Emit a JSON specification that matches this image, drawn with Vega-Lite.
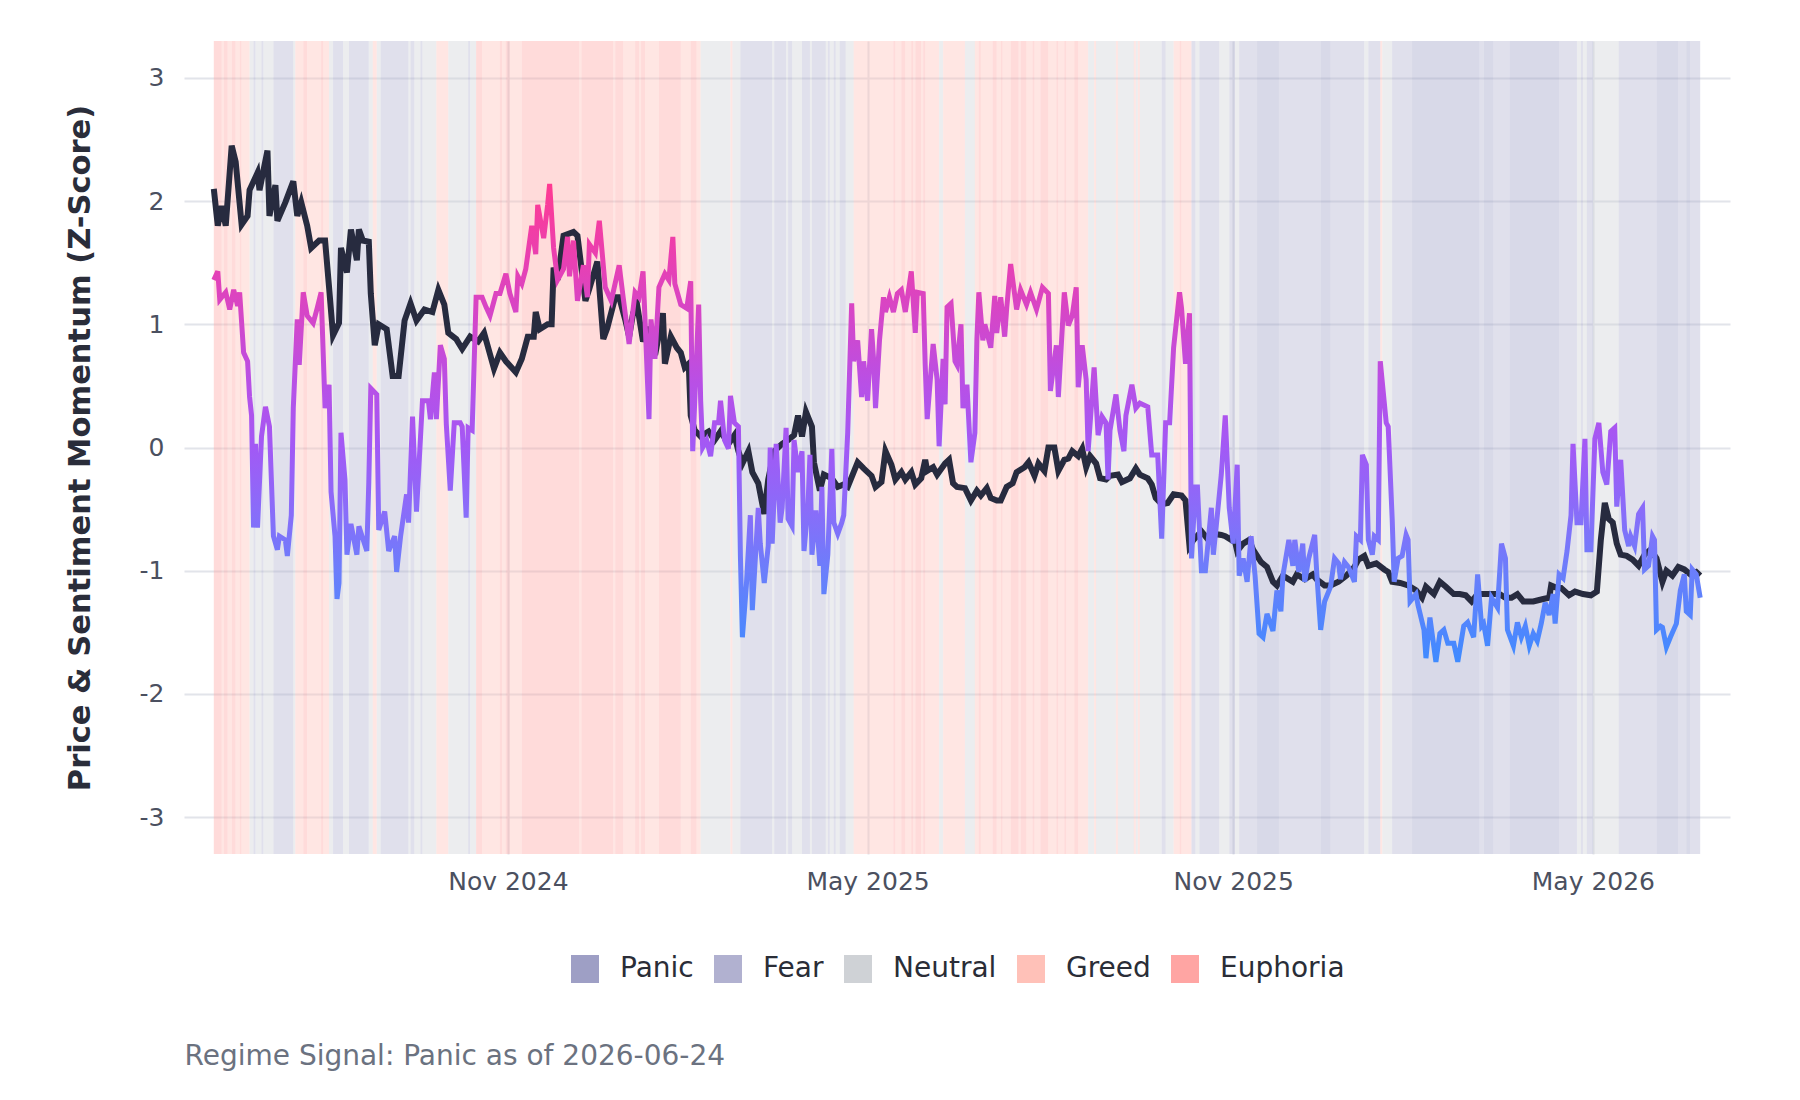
{
  "$schema": "https://vega.github.io/schema/vega-lite/v6.json",
  "width": 1546,
  "height": 813,
  "autosize": {"type": "none"},
  "padding": {"left": 184, "top": 41, "right": 70, "bottom": 246},
  "background": "white",
  "config": {
    "font": "DejaVu Sans",
    "view": {"stroke": null},
    "legend": {"padding": 0}
  },
  "datasets": {
    "regimes": [
      {"start": "2024-06-06", "end": "2024-06-10", "regime": "Euphoria"},
      {"start": "2024-06-10", "end": "2024-06-11", "regime": "Greed"},
      {"start": "2024-06-11", "end": "2024-06-13", "regime": "Euphoria"},
      {"start": "2024-06-13", "end": "2024-06-15", "regime": "Greed"},
      {"start": "2024-06-15", "end": "2024-06-17", "regime": "Euphoria"},
      {"start": "2024-06-17", "end": "2024-06-19", "regime": "Greed"},
      {"start": "2024-06-19", "end": "2024-06-20", "regime": "Euphoria"},
      {"start": "2024-06-20", "end": "2024-06-24", "regime": "Greed"},
      {"start": "2024-06-24", "end": "2024-06-26", "regime": "Neutral"},
      {"start": "2024-06-26", "end": "2024-06-27", "regime": "Fear"},
      {"start": "2024-06-27", "end": "2024-06-30", "regime": "Neutral"},
      {"start": "2024-06-30", "end": "2024-07-01", "regime": "Fear"},
      {"start": "2024-07-01", "end": "2024-07-06", "regime": "Neutral"},
      {"start": "2024-07-06", "end": "2024-07-16", "regime": "Fear"},
      {"start": "2024-07-16", "end": "2024-07-17", "regime": "Neutral"},
      {"start": "2024-07-17", "end": "2024-07-21", "regime": "Greed"},
      {"start": "2024-07-21", "end": "2024-07-23", "regime": "Euphoria"},
      {"start": "2024-07-23", "end": "2024-07-30", "regime": "Greed"},
      {"start": "2024-07-30", "end": "2024-07-31", "regime": "Euphoria"},
      {"start": "2024-07-31", "end": "2024-08-03", "regime": "Greed"},
      {"start": "2024-08-03", "end": "2024-08-05", "regime": "Neutral"},
      {"start": "2024-08-05", "end": "2024-08-10", "regime": "Fear"},
      {"start": "2024-08-10", "end": "2024-08-13", "regime": "Neutral"},
      {"start": "2024-08-13", "end": "2024-08-23", "regime": "Fear"},
      {"start": "2024-08-23", "end": "2024-08-25", "regime": "Neutral"},
      {"start": "2024-08-25", "end": "2024-08-27", "regime": "Greed"},
      {"start": "2024-08-27", "end": "2024-08-29", "regime": "Neutral"},
      {"start": "2024-08-29", "end": "2024-09-12", "regime": "Fear"},
      {"start": "2024-09-12", "end": "2024-09-13", "regime": "Neutral"},
      {"start": "2024-09-13", "end": "2024-09-15", "regime": "Fear"},
      {"start": "2024-09-15", "end": "2024-09-18", "regime": "Neutral"},
      {"start": "2024-09-18", "end": "2024-09-19", "regime": "Fear"},
      {"start": "2024-09-19", "end": "2024-09-26", "regime": "Neutral"},
      {"start": "2024-09-26", "end": "2024-10-02", "regime": "Greed"},
      {"start": "2024-10-02", "end": "2024-10-12", "regime": "Neutral"},
      {"start": "2024-10-12", "end": "2024-10-13", "regime": "Fear"},
      {"start": "2024-10-13", "end": "2024-10-16", "regime": "Neutral"},
      {"start": "2024-10-16", "end": "2024-10-19", "regime": "Euphoria"},
      {"start": "2024-10-19", "end": "2024-10-28", "regime": "Greed"},
      {"start": "2024-10-28", "end": "2024-10-29", "regime": "Euphoria"},
      {"start": "2024-10-29", "end": "2024-10-31", "regime": "Greed"},
      {"start": "2024-10-31", "end": "2024-11-02", "regime": "Euphoria"},
      {"start": "2024-11-02", "end": "2024-11-08", "regime": "Greed"},
      {"start": "2024-11-08", "end": "2024-12-07", "regime": "Euphoria"},
      {"start": "2024-12-07", "end": "2024-12-08", "regime": "Greed"},
      {"start": "2024-12-08", "end": "2024-12-24", "regime": "Euphoria"},
      {"start": "2024-12-24", "end": "2024-12-25", "regime": "Greed"},
      {"start": "2024-12-25", "end": "2024-12-29", "regime": "Euphoria"},
      {"start": "2024-12-29", "end": "2025-01-04", "regime": "Greed"},
      {"start": "2025-01-04", "end": "2025-01-06", "regime": "Euphoria"},
      {"start": "2025-01-06", "end": "2025-01-07", "regime": "Greed"},
      {"start": "2025-01-07", "end": "2025-01-09", "regime": "Euphoria"},
      {"start": "2025-01-09", "end": "2025-01-16", "regime": "Greed"},
      {"start": "2025-01-16", "end": "2025-01-27", "regime": "Euphoria"},
      {"start": "2025-01-27", "end": "2025-02-01", "regime": "Greed"},
      {"start": "2025-02-01", "end": "2025-02-04", "regime": "Euphoria"},
      {"start": "2025-02-04", "end": "2025-02-06", "regime": "Greed"},
      {"start": "2025-02-06", "end": "2025-02-21", "regime": "Neutral"},
      {"start": "2025-02-21", "end": "2025-02-22", "regime": "Greed"},
      {"start": "2025-02-22", "end": "2025-02-26", "regime": "Neutral"},
      {"start": "2025-02-26", "end": "2025-03-14", "regime": "Fear"},
      {"start": "2025-03-14", "end": "2025-03-15", "regime": "Neutral"},
      {"start": "2025-03-15", "end": "2025-03-21", "regime": "Fear"},
      {"start": "2025-03-21", "end": "2025-03-22", "regime": "Neutral"},
      {"start": "2025-03-22", "end": "2025-03-24", "regime": "Fear"},
      {"start": "2025-03-24", "end": "2025-03-29", "regime": "Neutral"},
      {"start": "2025-03-29", "end": "2025-04-02", "regime": "Fear"},
      {"start": "2025-04-02", "end": "2025-04-03", "regime": "Neutral"},
      {"start": "2025-04-03", "end": "2025-04-10", "regime": "Fear"},
      {"start": "2025-04-10", "end": "2025-04-11", "regime": "Neutral"},
      {"start": "2025-04-11", "end": "2025-04-12", "regime": "Fear"},
      {"start": "2025-04-12", "end": "2025-04-14", "regime": "Neutral"},
      {"start": "2025-04-14", "end": "2025-04-15", "regime": "Fear"},
      {"start": "2025-04-15", "end": "2025-04-17", "regime": "Neutral"},
      {"start": "2025-04-17", "end": "2025-04-20", "regime": "Fear"},
      {"start": "2025-04-20", "end": "2025-04-24", "regime": "Neutral"},
      {"start": "2025-04-24", "end": "2025-05-14", "regime": "Greed"},
      {"start": "2025-05-14", "end": "2025-05-15", "regime": "Euphoria"},
      {"start": "2025-05-15", "end": "2025-05-18", "regime": "Greed"},
      {"start": "2025-05-18", "end": "2025-05-20", "regime": "Euphoria"},
      {"start": "2025-05-20", "end": "2025-05-23", "regime": "Greed"},
      {"start": "2025-05-23", "end": "2025-05-24", "regime": "Euphoria"},
      {"start": "2025-05-24", "end": "2025-05-25", "regime": "Greed"},
      {"start": "2025-05-25", "end": "2025-05-28", "regime": "Euphoria"},
      {"start": "2025-05-28", "end": "2025-05-29", "regime": "Greed"},
      {"start": "2025-05-29", "end": "2025-05-30", "regime": "Euphoria"},
      {"start": "2025-05-30", "end": "2025-06-06", "regime": "Greed"},
      {"start": "2025-06-06", "end": "2025-06-08", "regime": "Neutral"},
      {"start": "2025-06-08", "end": "2025-06-19", "regime": "Greed"},
      {"start": "2025-06-19", "end": "2025-06-24", "regime": "Neutral"},
      {"start": "2025-06-24", "end": "2025-06-26", "regime": "Greed"},
      {"start": "2025-06-26", "end": "2025-06-27", "regime": "Euphoria"},
      {"start": "2025-06-27", "end": "2025-07-03", "regime": "Greed"},
      {"start": "2025-07-03", "end": "2025-07-05", "regime": "Euphoria"},
      {"start": "2025-07-05", "end": "2025-07-07", "regime": "Greed"},
      {"start": "2025-07-07", "end": "2025-07-08", "regime": "Euphoria"},
      {"start": "2025-07-08", "end": "2025-07-12", "regime": "Greed"},
      {"start": "2025-07-12", "end": "2025-07-16", "regime": "Euphoria"},
      {"start": "2025-07-16", "end": "2025-07-17", "regime": "Greed"},
      {"start": "2025-07-17", "end": "2025-07-20", "regime": "Euphoria"},
      {"start": "2025-07-20", "end": "2025-07-23", "regime": "Greed"},
      {"start": "2025-07-23", "end": "2025-07-24", "regime": "Euphoria"},
      {"start": "2025-07-24", "end": "2025-07-27", "regime": "Greed"},
      {"start": "2025-07-27", "end": "2025-07-31", "regime": "Euphoria"},
      {"start": "2025-07-31", "end": "2025-08-04", "regime": "Greed"},
      {"start": "2025-08-04", "end": "2025-08-05", "regime": "Euphoria"},
      {"start": "2025-08-05", "end": "2025-08-08", "regime": "Greed"},
      {"start": "2025-08-08", "end": "2025-08-09", "regime": "Euphoria"},
      {"start": "2025-08-09", "end": "2025-08-13", "regime": "Greed"},
      {"start": "2025-08-13", "end": "2025-08-15", "regime": "Euphoria"},
      {"start": "2025-08-15", "end": "2025-08-20", "regime": "Greed"},
      {"start": "2025-08-20", "end": "2025-08-23", "regime": "Neutral"},
      {"start": "2025-08-23", "end": "2025-08-24", "regime": "Greed"},
      {"start": "2025-08-24", "end": "2025-09-03", "regime": "Neutral"},
      {"start": "2025-09-03", "end": "2025-09-04", "regime": "Greed"},
      {"start": "2025-09-04", "end": "2025-09-12", "regime": "Neutral"},
      {"start": "2025-09-12", "end": "2025-09-13", "regime": "Greed"},
      {"start": "2025-09-13", "end": "2025-09-14", "regime": "Neutral"},
      {"start": "2025-09-14", "end": "2025-09-15", "regime": "Greed"},
      {"start": "2025-09-15", "end": "2025-09-26", "regime": "Neutral"},
      {"start": "2025-09-26", "end": "2025-09-28", "regime": "Fear"},
      {"start": "2025-09-28", "end": "2025-10-02", "regime": "Neutral"},
      {"start": "2025-10-02", "end": "2025-10-05", "regime": "Greed"},
      {"start": "2025-10-05", "end": "2025-10-06", "regime": "Euphoria"},
      {"start": "2025-10-06", "end": "2025-10-11", "regime": "Greed"},
      {"start": "2025-10-11", "end": "2025-10-13", "regime": "Fear"},
      {"start": "2025-10-13", "end": "2025-10-15", "regime": "Neutral"},
      {"start": "2025-10-15", "end": "2025-10-25", "regime": "Fear"},
      {"start": "2025-10-25", "end": "2025-10-30", "regime": "Neutral"},
      {"start": "2025-10-30", "end": "2025-11-02", "regime": "Fear"},
      {"start": "2025-11-02", "end": "2025-11-04", "regime": "Neutral"},
      {"start": "2025-11-04", "end": "2025-11-13", "regime": "Fear"},
      {"start": "2025-11-13", "end": "2025-11-24", "regime": "Panic"},
      {"start": "2025-11-24", "end": "2025-12-15", "regime": "Fear"},
      {"start": "2025-12-15", "end": "2025-12-20", "regime": "Panic"},
      {"start": "2025-12-20", "end": "2026-01-06", "regime": "Fear"},
      {"start": "2026-01-06", "end": "2026-01-08", "regime": "Neutral"},
      {"start": "2026-01-08", "end": "2026-01-14", "regime": "Fear"},
      {"start": "2026-01-14", "end": "2026-01-15", "regime": "Greed"},
      {"start": "2026-01-15", "end": "2026-01-20", "regime": "Neutral"},
      {"start": "2026-01-20", "end": "2026-01-30", "regime": "Fear"},
      {"start": "2026-01-30", "end": "2026-03-05", "regime": "Panic"},
      {"start": "2026-03-05", "end": "2026-03-07", "regime": "Fear"},
      {"start": "2026-03-07", "end": "2026-03-12", "regime": "Panic"},
      {"start": "2026-03-12", "end": "2026-03-20", "regime": "Fear"},
      {"start": "2026-03-20", "end": "2026-04-14", "regime": "Panic"},
      {"start": "2026-04-14", "end": "2026-04-23", "regime": "Fear"},
      {"start": "2026-04-23", "end": "2026-04-25", "regime": "Neutral"},
      {"start": "2026-04-25", "end": "2026-04-26", "regime": "Fear"},
      {"start": "2026-04-26", "end": "2026-04-28", "regime": "Neutral"},
      {"start": "2026-04-28", "end": "2026-05-01", "regime": "Fear"},
      {"start": "2026-05-01", "end": "2026-05-14", "regime": "Neutral"},
      {"start": "2026-05-14", "end": "2026-06-02", "regime": "Fear"},
      {"start": "2026-06-02", "end": "2026-06-13", "regime": "Panic"},
      {"start": "2026-06-13", "end": "2026-06-17", "regime": "Fear"},
      {"start": "2026-06-17", "end": "2026-06-19", "regime": "Panic"},
      {"start": "2026-06-19", "end": "2026-06-24", "regime": "Fear"}
    ],
    "price": [
      {"date": "2024-06-06", "z": 2.10}, {"date": "2024-06-08", "z": 1.80}, {"date": "2024-06-10", "z": 1.96},
      {"date": "2024-06-12", "z": 1.80}, {"date": "2024-06-15", "z": 2.45}, {"date": "2024-06-17", "z": 2.32},
      {"date": "2024-06-20", "z": 1.81}, {"date": "2024-06-23", "z": 1.88}, {"date": "2024-06-24", "z": 2.09},
      {"date": "2024-06-28", "z": 2.23}, {"date": "2024-06-29", "z": 2.09}, {"date": "2024-07-03", "z": 2.41},
      {"date": "2024-07-04", "z": 1.88}, {"date": "2024-07-07", "z": 2.13}, {"date": "2024-07-08", "z": 1.84},
      {"date": "2024-07-12", "z": 1.99}, {"date": "2024-07-16", "z": 2.16}, {"date": "2024-07-18", "z": 1.88},
      {"date": "2024-07-20", "z": 1.99}, {"date": "2024-07-23", "z": 1.80}, {"date": "2024-07-25", "z": 1.62},
      {"date": "2024-07-29", "z": 1.68}, {"date": "2024-08-01", "z": 1.68}, {"date": "2024-08-03", "z": 1.30},
      {"date": "2024-08-05", "z": 0.91}, {"date": "2024-08-08", "z": 1.01}, {"date": "2024-08-09", "z": 1.62},
      {"date": "2024-08-12", "z": 1.42}, {"date": "2024-08-14", "z": 1.77}, {"date": "2024-08-17", "z": 1.52},
      {"date": "2024-08-18", "z": 1.77}, {"date": "2024-08-20", "z": 1.68}, {"date": "2024-08-23", "z": 1.67},
      {"date": "2024-08-24", "z": 1.25}, {"date": "2024-08-26", "z": 0.83}, {"date": "2024-08-28", "z": 1.00},
      {"date": "2024-09-01", "z": 0.96}, {"date": "2024-09-04", "z": 0.58}, {"date": "2024-09-07", "z": 0.58},
      {"date": "2024-09-10", "z": 1.03}, {"date": "2024-09-13", "z": 1.17}, {"date": "2024-09-16", "z": 1.03},
      {"date": "2024-09-20", "z": 1.12}, {"date": "2024-09-24", "z": 1.10}, {"date": "2024-09-27", "z": 1.28},
      {"date": "2024-09-30", "z": 1.16}, {"date": "2024-10-02", "z": 0.93}, {"date": "2024-10-06", "z": 0.88},
      {"date": "2024-10-09", "z": 0.80}, {"date": "2024-10-13", "z": 0.90}, {"date": "2024-10-17", "z": 0.86},
      {"date": "2024-10-20", "z": 0.93}, {"date": "2024-10-25", "z": 0.64}, {"date": "2024-10-28", "z": 0.77},
      {"date": "2024-10-31", "z": 0.70}, {"date": "2024-11-05", "z": 0.61}, {"date": "2024-11-08", "z": 0.72},
      {"date": "2024-11-11", "z": 0.90}, {"date": "2024-11-14", "z": 0.90}, {"date": "2024-11-15", "z": 1.10},
      {"date": "2024-11-17", "z": 0.96}, {"date": "2024-11-21", "z": 1.00}, {"date": "2024-11-23", "z": 1.00},
      {"date": "2024-11-24", "z": 1.46}, {"date": "2024-11-26", "z": 1.36}, {"date": "2024-11-29", "z": 1.72},
      {"date": "2024-12-04", "z": 1.75}, {"date": "2024-12-06", "z": 1.72}, {"date": "2024-12-10", "z": 1.19},
      {"date": "2024-12-12", "z": 1.29}, {"date": "2024-12-16", "z": 1.51}, {"date": "2024-12-19", "z": 0.88},
      {"date": "2024-12-21", "z": 0.97}, {"date": "2024-12-25", "z": 1.22}, {"date": "2024-12-27", "z": 1.22},
      {"date": "2024-12-30", "z": 1.04}, {"date": "2025-01-01", "z": 0.90}, {"date": "2025-01-03", "z": 1.09},
      {"date": "2025-01-05", "z": 1.16}, {"date": "2025-01-08", "z": 0.86}, {"date": "2025-01-10", "z": 0.96},
      {"date": "2025-01-12", "z": 0.96}, {"date": "2025-01-15", "z": 0.83}, {"date": "2025-01-18", "z": 1.09},
      {"date": "2025-01-19", "z": 0.68}, {"date": "2025-01-22", "z": 0.90}, {"date": "2025-01-25", "z": 0.81},
      {"date": "2025-01-27", "z": 0.77}, {"date": "2025-01-29", "z": 0.65}, {"date": "2025-01-31", "z": 0.68},
      {"date": "2025-02-01", "z": 0.26}, {"date": "2025-02-03", "z": 0.14}, {"date": "2025-02-06", "z": 0.09},
      {"date": "2025-02-10", "z": 0.13}, {"date": "2025-02-13", "z": 0.06}, {"date": "2025-02-16", "z": 0.13},
      {"date": "2025-02-20", "z": 0.03}, {"date": "2025-02-23", "z": 0.10}, {"date": "2025-02-25", "z": -0.03},
      {"date": "2025-02-27", "z": -0.13}, {"date": "2025-03-02", "z": -0.03}, {"date": "2025-03-04", "z": -0.20},
      {"date": "2025-03-07", "z": -0.29}, {"date": "2025-03-10", "z": -0.54}, {"date": "2025-03-12", "z": -0.26},
      {"date": "2025-03-15", "z": -0.03}, {"date": "2025-03-19", "z": 0.03}, {"date": "2025-03-22", "z": 0.06},
      {"date": "2025-03-25", "z": 0.10}, {"date": "2025-03-27", "z": 0.26}, {"date": "2025-03-29", "z": 0.09},
      {"date": "2025-03-31", "z": 0.29}, {"date": "2025-04-03", "z": 0.17}, {"date": "2025-04-04", "z": -0.12},
      {"date": "2025-04-07", "z": -0.35}, {"date": "2025-04-09", "z": -0.22}, {"date": "2025-04-13", "z": -0.25},
      {"date": "2025-04-16", "z": -0.32}, {"date": "2025-04-19", "z": -0.30}, {"date": "2025-04-21", "z": -0.32},
      {"date": "2025-04-24", "z": -0.20}, {"date": "2025-04-26", "z": -0.12}, {"date": "2025-04-29", "z": -0.17},
      {"date": "2025-05-03", "z": -0.23}, {"date": "2025-05-05", "z": -0.32}, {"date": "2025-05-08", "z": -0.28},
      {"date": "2025-05-10", "z": -0.03}, {"date": "2025-05-13", "z": -0.14}, {"date": "2025-05-15", "z": -0.26},
      {"date": "2025-05-18", "z": -0.20}, {"date": "2025-05-20", "z": -0.26}, {"date": "2025-05-23", "z": -0.20},
      {"date": "2025-05-25", "z": -0.30}, {"date": "2025-05-28", "z": -0.25}, {"date": "2025-05-30", "z": -0.10},
      {"date": "2025-05-31", "z": -0.19}, {"date": "2025-06-03", "z": -0.16}, {"date": "2025-06-05", "z": -0.22},
      {"date": "2025-06-09", "z": -0.13}, {"date": "2025-06-11", "z": -0.10}, {"date": "2025-06-13", "z": -0.29},
      {"date": "2025-06-15", "z": -0.32}, {"date": "2025-06-19", "z": -0.33}, {"date": "2025-06-22", "z": -0.43},
      {"date": "2025-06-25", "z": -0.35}, {"date": "2025-06-27", "z": -0.39}, {"date": "2025-06-30", "z": -0.33},
      {"date": "2025-07-02", "z": -0.41}, {"date": "2025-07-05", "z": -0.43}, {"date": "2025-07-07", "z": -0.43},
      {"date": "2025-07-10", "z": -0.32}, {"date": "2025-07-13", "z": -0.29}, {"date": "2025-07-15", "z": -0.20},
      {"date": "2025-07-19", "z": -0.16}, {"date": "2025-07-21", "z": -0.12}, {"date": "2025-07-24", "z": -0.23},
      {"date": "2025-07-26", "z": -0.13}, {"date": "2025-07-29", "z": -0.19}, {"date": "2025-07-31", "z": 0.00},
      {"date": "2025-08-03", "z": 0.00}, {"date": "2025-08-05", "z": -0.19}, {"date": "2025-08-08", "z": -0.10},
      {"date": "2025-08-10", "z": -0.09}, {"date": "2025-08-12", "z": -0.03}, {"date": "2025-08-15", "z": -0.07},
      {"date": "2025-08-17", "z": -0.01}, {"date": "2025-08-19", "z": -0.16}, {"date": "2025-08-21", "z": -0.07},
      {"date": "2025-08-24", "z": -0.13}, {"date": "2025-08-26", "z": -0.25}, {"date": "2025-08-29", "z": -0.26},
      {"date": "2025-08-31", "z": -0.23}, {"date": "2025-09-04", "z": -0.22}, {"date": "2025-09-06", "z": -0.28},
      {"date": "2025-09-10", "z": -0.25}, {"date": "2025-09-13", "z": -0.17}, {"date": "2025-09-15", "z": -0.22},
      {"date": "2025-09-19", "z": -0.25}, {"date": "2025-09-21", "z": -0.30}, {"date": "2025-09-23", "z": -0.41},
      {"date": "2025-09-26", "z": -0.46}, {"date": "2025-09-29", "z": -0.45}, {"date": "2025-10-02", "z": -0.38},
      {"date": "2025-10-06", "z": -0.39}, {"date": "2025-10-08", "z": -0.43}, {"date": "2025-10-10", "z": -0.80},
      {"date": "2025-10-12", "z": -0.75}, {"date": "2025-10-16", "z": -0.68}, {"date": "2025-10-19", "z": -0.74},
      {"date": "2025-10-22", "z": -0.70}, {"date": "2025-10-26", "z": -0.71}, {"date": "2025-10-28", "z": -0.72},
      {"date": "2025-10-31", "z": -0.75}, {"date": "2025-11-01", "z": -0.70}, {"date": "2025-11-03", "z": -0.84},
      {"date": "2025-11-06", "z": -0.78}, {"date": "2025-11-09", "z": -0.75}, {"date": "2025-11-11", "z": -0.83},
      {"date": "2025-11-15", "z": -0.93}, {"date": "2025-11-18", "z": -0.97}, {"date": "2025-11-21", "z": -1.09},
      {"date": "2025-11-23", "z": -1.12}, {"date": "2025-11-26", "z": -1.04}, {"date": "2025-12-01", "z": -1.09},
      {"date": "2025-12-03", "z": -1.03}, {"date": "2025-12-07", "z": -1.07}, {"date": "2025-12-11", "z": -1.03},
      {"date": "2025-12-13", "z": -1.07}, {"date": "2025-12-17", "z": -1.12}, {"date": "2025-12-20", "z": -1.12},
      {"date": "2025-12-24", "z": -1.09}, {"date": "2025-12-28", "z": -1.04}, {"date": "2026-01-01", "z": -0.97},
      {"date": "2026-01-03", "z": -0.91}, {"date": "2026-01-06", "z": -0.88}, {"date": "2026-01-08", "z": -0.96},
      {"date": "2026-01-12", "z": -0.94}, {"date": "2026-01-16", "z": -0.99}, {"date": "2026-01-18", "z": -1.01},
      {"date": "2026-01-20", "z": -1.09}, {"date": "2026-01-24", "z": -1.10}, {"date": "2026-01-28", "z": -1.12},
      {"date": "2026-02-01", "z": -1.16}, {"date": "2026-02-04", "z": -1.22}, {"date": "2026-02-06", "z": -1.13},
      {"date": "2026-02-10", "z": -1.19}, {"date": "2026-02-13", "z": -1.09}, {"date": "2026-02-16", "z": -1.13},
      {"date": "2026-02-20", "z": -1.19}, {"date": "2026-02-23", "z": -1.19}, {"date": "2026-02-26", "z": -1.20},
      {"date": "2026-03-01", "z": -1.25}, {"date": "2026-03-04", "z": -1.19}, {"date": "2026-03-08", "z": -1.19},
      {"date": "2026-03-12", "z": -1.19}, {"date": "2026-03-15", "z": -1.19}, {"date": "2026-03-18", "z": -1.22},
      {"date": "2026-03-21", "z": -1.22}, {"date": "2026-03-24", "z": -1.19}, {"date": "2026-03-27", "z": -1.25},
      {"date": "2026-04-01", "z": -1.25}, {"date": "2026-04-06", "z": -1.23}, {"date": "2026-04-09", "z": -1.22},
      {"date": "2026-04-10", "z": -1.12}, {"date": "2026-04-13", "z": -1.14}, {"date": "2026-04-15", "z": -1.14},
      {"date": "2026-04-19", "z": -1.20}, {"date": "2026-04-22", "z": -1.17}, {"date": "2026-04-26", "z": -1.19},
      {"date": "2026-04-30", "z": -1.20}, {"date": "2026-05-03", "z": -1.17}, {"date": "2026-05-05", "z": -0.75},
      {"date": "2026-05-07", "z": -0.45}, {"date": "2026-05-09", "z": -0.58}, {"date": "2026-05-11", "z": -0.61},
      {"date": "2026-05-13", "z": -0.78}, {"date": "2026-05-15", "z": -0.87}, {"date": "2026-05-18", "z": -0.88},
      {"date": "2026-05-21", "z": -0.91}, {"date": "2026-05-24", "z": -0.96}, {"date": "2026-05-27", "z": -0.87},
      {"date": "2026-05-30", "z": -0.83}, {"date": "2026-06-02", "z": -0.90}, {"date": "2026-06-05", "z": -1.09},
      {"date": "2026-06-07", "z": -1.00}, {"date": "2026-06-10", "z": -1.04}, {"date": "2026-06-13", "z": -0.97},
      {"date": "2026-06-16", "z": -0.99}, {"date": "2026-06-19", "z": -1.03}, {"date": "2026-06-22", "z": -1.01},
      {"date": "2026-06-24", "z": -1.04}
    ],
    "sent": [
      {"date": "2024-06-06", "z": 1.36}, {"date": "2024-06-08", "z": 1.43}, {"date": "2024-06-09", "z": 1.20},
      {"date": "2024-06-12", "z": 1.26}, {"date": "2024-06-14", "z": 1.12}, {"date": "2024-06-16", "z": 1.28},
      {"date": "2024-06-18", "z": 1.15}, {"date": "2024-06-19", "z": 1.26}, {"date": "2024-06-21", "z": 0.77},
      {"date": "2024-06-23", "z": 0.70}, {"date": "2024-06-24", "z": 0.41}, {"date": "2024-06-25", "z": 0.26},
      {"date": "2024-06-26", "z": -0.65}, {"date": "2024-06-27", "z": 0.03}, {"date": "2024-06-28", "z": -0.65},
      {"date": "2024-06-30", "z": 0.09}, {"date": "2024-07-02", "z": 0.33}, {"date": "2024-07-04", "z": 0.17},
      {"date": "2024-07-06", "z": -0.72}, {"date": "2024-07-08", "z": -0.83}, {"date": "2024-07-09", "z": -0.72},
      {"date": "2024-07-12", "z": -0.75}, {"date": "2024-07-13", "z": -0.88}, {"date": "2024-07-15", "z": -0.55},
      {"date": "2024-07-16", "z": 0.32}, {"date": "2024-07-18", "z": 1.04}, {"date": "2024-07-19", "z": 0.67},
      {"date": "2024-07-21", "z": 1.26}, {"date": "2024-07-23", "z": 1.07}, {"date": "2024-07-26", "z": 1.01},
      {"date": "2024-07-28", "z": 1.13}, {"date": "2024-07-30", "z": 1.26}, {"date": "2024-08-01", "z": 0.32},
      {"date": "2024-08-03", "z": 0.51}, {"date": "2024-08-04", "z": -0.36}, {"date": "2024-08-06", "z": -0.72},
      {"date": "2024-08-07", "z": -1.23}, {"date": "2024-08-08", "z": -1.10}, {"date": "2024-08-09", "z": 0.12},
      {"date": "2024-08-11", "z": -0.26}, {"date": "2024-08-12", "z": -0.87}, {"date": "2024-08-14", "z": -0.62},
      {"date": "2024-08-17", "z": -0.87}, {"date": "2024-08-18", "z": -0.64}, {"date": "2024-08-22", "z": -0.84},
      {"date": "2024-08-23", "z": -0.28}, {"date": "2024-08-24", "z": 0.48}, {"date": "2024-08-27", "z": 0.43},
      {"date": "2024-08-28", "z": -0.67}, {"date": "2024-08-31", "z": -0.52}, {"date": "2024-09-02", "z": -0.84},
      {"date": "2024-09-05", "z": -0.72}, {"date": "2024-09-06", "z": -1.01}, {"date": "2024-09-08", "z": -0.72},
      {"date": "2024-09-11", "z": -0.38}, {"date": "2024-09-12", "z": -0.61}, {"date": "2024-09-14", "z": 0.25},
      {"date": "2024-09-16", "z": -0.52}, {"date": "2024-09-19", "z": 0.38}, {"date": "2024-09-22", "z": 0.38},
      {"date": "2024-09-23", "z": 0.23}, {"date": "2024-09-25", "z": 0.61}, {"date": "2024-09-26", "z": 0.23},
      {"date": "2024-09-28", "z": 0.83}, {"date": "2024-09-30", "z": 0.72}, {"date": "2024-10-01", "z": 0.19},
      {"date": "2024-10-03", "z": -0.35}, {"date": "2024-10-05", "z": 0.20}, {"date": "2024-10-08", "z": 0.20},
      {"date": "2024-10-09", "z": 0.17}, {"date": "2024-10-11", "z": -0.57}, {"date": "2024-10-12", "z": 0.16},
      {"date": "2024-10-14", "z": 0.14}, {"date": "2024-10-16", "z": 1.22}, {"date": "2024-10-19", "z": 1.22},
      {"date": "2024-10-21", "z": 1.14}, {"date": "2024-10-23", "z": 1.07}, {"date": "2024-10-26", "z": 1.25},
      {"date": "2024-10-28", "z": 1.25}, {"date": "2024-10-31", "z": 1.41}, {"date": "2024-11-02", "z": 1.25},
      {"date": "2024-11-05", "z": 1.10}, {"date": "2024-11-06", "z": 1.39}, {"date": "2024-11-08", "z": 1.33},
      {"date": "2024-11-10", "z": 1.45}, {"date": "2024-11-13", "z": 1.80}, {"date": "2024-11-15", "z": 1.57},
      {"date": "2024-11-16", "z": 1.97}, {"date": "2024-11-19", "z": 1.70}, {"date": "2024-11-21", "z": 1.97},
      {"date": "2024-11-22", "z": 2.14}, {"date": "2024-11-24", "z": 1.62}, {"date": "2024-11-26", "z": 1.36},
      {"date": "2024-11-29", "z": 1.45}, {"date": "2024-12-01", "z": 1.71}, {"date": "2024-12-02", "z": 1.39},
      {"date": "2024-12-04", "z": 1.68}, {"date": "2024-12-06", "z": 1.19}, {"date": "2024-12-09", "z": 1.48},
      {"date": "2024-12-11", "z": 1.22}, {"date": "2024-12-12", "z": 1.65}, {"date": "2024-12-15", "z": 1.58},
      {"date": "2024-12-17", "z": 1.84}, {"date": "2024-12-20", "z": 1.30}, {"date": "2024-12-23", "z": 1.19},
      {"date": "2024-12-27", "z": 1.48}, {"date": "2024-12-29", "z": 1.22}, {"date": "2025-01-01", "z": 0.84},
      {"date": "2025-01-04", "z": 1.26}, {"date": "2025-01-06", "z": 1.22}, {"date": "2025-01-08", "z": 1.43},
      {"date": "2025-01-09", "z": 1.04}, {"date": "2025-01-11", "z": 0.23}, {"date": "2025-01-12", "z": 1.04},
      {"date": "2025-01-14", "z": 0.72}, {"date": "2025-01-16", "z": 1.30}, {"date": "2025-01-19", "z": 1.41},
      {"date": "2025-01-21", "z": 1.36}, {"date": "2025-01-23", "z": 1.71}, {"date": "2025-01-24", "z": 1.33},
      {"date": "2025-01-27", "z": 1.16}, {"date": "2025-01-30", "z": 1.13}, {"date": "2025-02-01", "z": 1.35},
      {"date": "2025-02-02", "z": -0.03}, {"date": "2025-02-05", "z": 1.16}, {"date": "2025-02-06", "z": 0.38},
      {"date": "2025-02-07", "z": 0.00}, {"date": "2025-02-09", "z": 0.06}, {"date": "2025-02-11", "z": -0.07},
      {"date": "2025-02-13", "z": 0.20}, {"date": "2025-02-15", "z": 0.20}, {"date": "2025-02-16", "z": 0.38},
      {"date": "2025-02-18", "z": 0.06}, {"date": "2025-02-20", "z": -0.01}, {"date": "2025-02-21", "z": 0.42},
      {"date": "2025-02-23", "z": 0.20}, {"date": "2025-02-25", "z": 0.17}, {"date": "2025-02-26", "z": -0.88},
      {"date": "2025-02-27", "z": -1.54}, {"date": "2025-03-01", "z": -1.12}, {"date": "2025-03-03", "z": -0.55},
      {"date": "2025-03-04", "z": -1.32}, {"date": "2025-03-07", "z": -0.49}, {"date": "2025-03-08", "z": -0.78},
      {"date": "2025-03-10", "z": -1.10}, {"date": "2025-03-12", "z": -0.80}, {"date": "2025-03-13", "z": 0.00},
      {"date": "2025-03-14", "z": -0.78}, {"date": "2025-03-16", "z": 0.03}, {"date": "2025-03-18", "z": -0.61},
      {"date": "2025-03-19", "z": -0.49}, {"date": "2025-03-21", "z": 0.16}, {"date": "2025-03-22", "z": -0.58},
      {"date": "2025-03-24", "z": -0.64}, {"date": "2025-03-25", "z": 0.06}, {"date": "2025-03-27", "z": -0.20},
      {"date": "2025-03-29", "z": -0.03}, {"date": "2025-03-30", "z": -0.84}, {"date": "2025-04-01", "z": -0.48},
      {"date": "2025-04-02", "z": -0.06}, {"date": "2025-04-03", "z": -0.87}, {"date": "2025-04-05", "z": -0.51},
      {"date": "2025-04-07", "z": -0.96}, {"date": "2025-04-08", "z": -0.32}, {"date": "2025-04-09", "z": -1.19},
      {"date": "2025-04-11", "z": -0.87}, {"date": "2025-04-13", "z": -0.01}, {"date": "2025-04-14", "z": -0.61},
      {"date": "2025-04-16", "z": -0.70}, {"date": "2025-04-18", "z": -0.61}, {"date": "2025-04-19", "z": -0.55},
      {"date": "2025-04-21", "z": 0.12}, {"date": "2025-04-23", "z": 1.17}, {"date": "2025-04-24", "z": 0.70},
      {"date": "2025-04-26", "z": 0.87}, {"date": "2025-04-28", "z": 0.41}, {"date": "2025-04-29", "z": 0.70},
      {"date": "2025-05-01", "z": 0.38}, {"date": "2025-05-03", "z": 0.96}, {"date": "2025-05-04", "z": 0.72},
      {"date": "2025-05-05", "z": 0.32}, {"date": "2025-05-07", "z": 0.87}, {"date": "2025-05-09", "z": 1.22},
      {"date": "2025-05-10", "z": 1.10}, {"date": "2025-05-12", "z": 1.22}, {"date": "2025-05-14", "z": 1.10},
      {"date": "2025-05-16", "z": 1.25}, {"date": "2025-05-18", "z": 1.28}, {"date": "2025-05-20", "z": 1.10},
      {"date": "2025-05-23", "z": 1.43}, {"date": "2025-05-25", "z": 0.93}, {"date": "2025-05-26", "z": 1.26},
      {"date": "2025-05-29", "z": 1.25}, {"date": "2025-05-30", "z": 0.67}, {"date": "2025-05-31", "z": 0.23},
      {"date": "2025-06-03", "z": 0.84}, {"date": "2025-06-05", "z": 0.55}, {"date": "2025-06-06", "z": 0.01},
      {"date": "2025-06-08", "z": 0.72}, {"date": "2025-06-09", "z": 0.35}, {"date": "2025-06-10", "z": 1.14},
      {"date": "2025-06-12", "z": 1.17}, {"date": "2025-06-14", "z": 0.70}, {"date": "2025-06-15", "z": 0.67},
      {"date": "2025-06-17", "z": 1.00}, {"date": "2025-06-18", "z": 0.32}, {"date": "2025-06-20", "z": 0.51},
      {"date": "2025-06-22", "z": -0.12}, {"date": "2025-06-24", "z": 0.12}, {"date": "2025-06-25", "z": 0.87},
      {"date": "2025-06-26", "z": 1.26}, {"date": "2025-06-28", "z": 0.87}, {"date": "2025-06-29", "z": 1.00},
      {"date": "2025-07-02", "z": 0.81}, {"date": "2025-07-04", "z": 1.23}, {"date": "2025-07-05", "z": 0.93},
      {"date": "2025-07-07", "z": 1.22}, {"date": "2025-07-09", "z": 0.90}, {"date": "2025-07-10", "z": 1.13},
      {"date": "2025-07-12", "z": 1.49}, {"date": "2025-07-15", "z": 1.12}, {"date": "2025-07-17", "z": 1.28},
      {"date": "2025-07-20", "z": 1.16}, {"date": "2025-07-22", "z": 1.26}, {"date": "2025-07-25", "z": 1.12},
      {"date": "2025-07-28", "z": 1.30}, {"date": "2025-07-31", "z": 1.25}, {"date": "2025-08-01", "z": 0.46},
      {"date": "2025-08-04", "z": 0.83}, {"date": "2025-08-05", "z": 0.41}, {"date": "2025-08-08", "z": 1.26},
      {"date": "2025-08-10", "z": 0.99}, {"date": "2025-08-12", "z": 1.07}, {"date": "2025-08-14", "z": 1.30},
      {"date": "2025-08-15", "z": 0.49}, {"date": "2025-08-17", "z": 0.83}, {"date": "2025-08-19", "z": 0.55},
      {"date": "2025-08-20", "z": -0.03}, {"date": "2025-08-23", "z": 0.65}, {"date": "2025-08-25", "z": 0.10},
      {"date": "2025-08-27", "z": 0.25}, {"date": "2025-08-29", "z": 0.20}, {"date": "2025-08-30", "z": -0.26},
      {"date": "2025-08-31", "z": 0.14}, {"date": "2025-09-03", "z": 0.43}, {"date": "2025-09-05", "z": 0.14},
      {"date": "2025-09-07", "z": -0.03}, {"date": "2025-09-08", "z": 0.26}, {"date": "2025-09-11", "z": 0.51},
      {"date": "2025-09-13", "z": 0.32}, {"date": "2025-09-15", "z": 0.36}, {"date": "2025-09-19", "z": 0.33},
      {"date": "2025-09-21", "z": -0.06}, {"date": "2025-09-24", "z": -0.06}, {"date": "2025-09-26", "z": -0.74},
      {"date": "2025-09-28", "z": 0.20}, {"date": "2025-09-30", "z": 0.20}, {"date": "2025-10-02", "z": 0.81},
      {"date": "2025-10-05", "z": 1.26}, {"date": "2025-10-06", "z": 1.13}, {"date": "2025-10-08", "z": 0.68},
      {"date": "2025-10-10", "z": 1.09}, {"date": "2025-10-11", "z": -0.90}, {"date": "2025-10-13", "z": -0.32},
      {"date": "2025-10-14", "z": -0.32}, {"date": "2025-10-16", "z": -1.00}, {"date": "2025-10-18", "z": -1.00},
      {"date": "2025-10-21", "z": -0.49}, {"date": "2025-10-22", "z": -0.87}, {"date": "2025-10-24", "z": -0.55},
      {"date": "2025-10-26", "z": -0.22}, {"date": "2025-10-28", "z": 0.26}, {"date": "2025-10-30", "z": -0.49},
      {"date": "2025-11-01", "z": -0.78}, {"date": "2025-11-03", "z": -0.14}, {"date": "2025-11-04", "z": -1.04},
      {"date": "2025-11-06", "z": -0.90}, {"date": "2025-11-08", "z": -1.09}, {"date": "2025-11-10", "z": -0.72},
      {"date": "2025-11-12", "z": -1.04}, {"date": "2025-11-14", "z": -1.51}, {"date": "2025-11-16", "z": -1.54},
      {"date": "2025-11-18", "z": -1.35}, {"date": "2025-11-21", "z": -1.49}, {"date": "2025-11-23", "z": -1.16},
      {"date": "2025-11-25", "z": -1.33}, {"date": "2025-11-26", "z": -1.04}, {"date": "2025-11-29", "z": -0.75},
      {"date": "2025-12-01", "z": -0.96}, {"date": "2025-12-02", "z": -0.75}, {"date": "2025-12-04", "z": -1.01},
      {"date": "2025-12-06", "z": -0.78}, {"date": "2025-12-07", "z": -1.09}, {"date": "2025-12-09", "z": -0.90},
      {"date": "2025-12-12", "z": -0.71}, {"date": "2025-12-13", "z": -1.01}, {"date": "2025-12-15", "z": -1.48},
      {"date": "2025-12-17", "z": -1.25}, {"date": "2025-12-20", "z": -1.13}, {"date": "2025-12-22", "z": -0.90},
      {"date": "2025-12-24", "z": -0.94}, {"date": "2025-12-25", "z": -1.07}, {"date": "2025-12-27", "z": -0.93},
      {"date": "2025-12-29", "z": -0.97}, {"date": "2026-01-01", "z": -1.09}, {"date": "2026-01-02", "z": -0.72},
      {"date": "2026-01-04", "z": -0.75}, {"date": "2026-01-05", "z": -0.06}, {"date": "2026-01-07", "z": -0.14},
      {"date": "2026-01-08", "z": -0.75}, {"date": "2026-01-10", "z": -0.87}, {"date": "2026-01-11", "z": -0.72},
      {"date": "2026-01-13", "z": -0.75}, {"date": "2026-01-14", "z": 0.70}, {"date": "2026-01-17", "z": 0.20},
      {"date": "2026-01-18", "z": 0.17}, {"date": "2026-01-20", "z": -0.58}, {"date": "2026-01-21", "z": -1.09},
      {"date": "2026-01-23", "z": -0.90}, {"date": "2026-01-25", "z": -0.88}, {"date": "2026-01-27", "z": -0.71},
      {"date": "2026-01-28", "z": -0.75}, {"date": "2026-01-29", "z": -1.25}, {"date": "2026-02-01", "z": -1.19},
      {"date": "2026-02-02", "z": -1.28}, {"date": "2026-02-05", "z": -1.48}, {"date": "2026-02-06", "z": -1.71},
      {"date": "2026-02-08", "z": -1.38}, {"date": "2026-02-10", "z": -1.62}, {"date": "2026-02-11", "z": -1.74},
      {"date": "2026-02-13", "z": -1.51}, {"date": "2026-02-15", "z": -1.48}, {"date": "2026-02-17", "z": -1.59},
      {"date": "2026-02-20", "z": -1.59}, {"date": "2026-02-22", "z": -1.74}, {"date": "2026-02-25", "z": -1.45},
      {"date": "2026-02-27", "z": -1.42}, {"date": "2026-03-02", "z": -1.54}, {"date": "2026-03-04", "z": -1.03},
      {"date": "2026-03-06", "z": -1.45}, {"date": "2026-03-07", "z": -1.43}, {"date": "2026-03-09", "z": -1.61},
      {"date": "2026-03-11", "z": -1.22}, {"date": "2026-03-14", "z": -1.30}, {"date": "2026-03-16", "z": -0.78},
      {"date": "2026-03-18", "z": -0.90}, {"date": "2026-03-19", "z": -1.48}, {"date": "2026-03-22", "z": -1.61},
      {"date": "2026-03-24", "z": -1.42}, {"date": "2026-03-26", "z": -1.54}, {"date": "2026-03-28", "z": -1.45},
      {"date": "2026-03-30", "z": -1.61}, {"date": "2026-04-01", "z": -1.51}, {"date": "2026-04-03", "z": -1.57},
      {"date": "2026-04-05", "z": -1.43}, {"date": "2026-04-07", "z": -1.26}, {"date": "2026-04-09", "z": -1.36},
      {"date": "2026-04-11", "z": -1.19}, {"date": "2026-04-12", "z": -1.43}, {"date": "2026-04-14", "z": -1.03},
      {"date": "2026-04-16", "z": -1.06}, {"date": "2026-04-18", "z": -0.84}, {"date": "2026-04-20", "z": -0.55},
      {"date": "2026-04-21", "z": 0.03}, {"date": "2026-04-23", "z": -0.61}, {"date": "2026-04-25", "z": -0.61},
      {"date": "2026-04-27", "z": 0.07}, {"date": "2026-04-28", "z": -0.83}, {"date": "2026-04-30", "z": -0.83},
      {"date": "2026-05-02", "z": 0.07}, {"date": "2026-05-04", "z": 0.20}, {"date": "2026-05-06", "z": -0.20},
      {"date": "2026-05-08", "z": -0.30}, {"date": "2026-05-10", "z": 0.13}, {"date": "2026-05-12", "z": 0.16},
      {"date": "2026-05-13", "z": -0.48}, {"date": "2026-05-15", "z": -0.10}, {"date": "2026-05-17", "z": -0.67},
      {"date": "2026-05-19", "z": -0.80}, {"date": "2026-05-20", "z": -0.72}, {"date": "2026-05-22", "z": -0.80},
      {"date": "2026-05-24", "z": -0.54}, {"date": "2026-05-26", "z": -0.49}, {"date": "2026-05-27", "z": -0.99},
      {"date": "2026-05-29", "z": -0.96}, {"date": "2026-05-31", "z": -0.72}, {"date": "2026-06-01", "z": -0.75},
      {"date": "2026-06-02", "z": -1.48}, {"date": "2026-06-04", "z": -1.45}, {"date": "2026-06-05", "z": -1.46},
      {"date": "2026-06-07", "z": -1.62}, {"date": "2026-06-09", "z": -1.54}, {"date": "2026-06-12", "z": -1.43},
      {"date": "2026-06-14", "z": -1.16}, {"date": "2026-06-16", "z": -1.03}, {"date": "2026-06-17", "z": -1.33},
      {"date": "2026-06-19", "z": -1.36}, {"date": "2026-06-20", "z": -0.99}, {"date": "2026-06-22", "z": -1.03},
      {"date": "2026-06-24", "z": -1.22}
    ]
  },
  "layer": [
    {
      "data": {"name": "regimes"},
      "mark": {"type": "rect", "opacity": 0.4, "strokeWidth": 0},
      "encoding": {
        "x": {
          "field": "start",
          "type": "temporal",
          "scale": {"domain": ["2024-05-22", "2026-07-09"]},
          "axis": {
            "values": [
              {"year": 2024, "month": 11, "date": 1},
              {"year": 2025, "month": 5, "date": 1},
              {"year": 2025, "month": 11, "date": 1},
              {"year": 2026, "month": 5, "date": 1}
            ],
            "format": "%b %Y",
            "domain": false,
            "ticks": false,
            "labelPadding": 15,
            "labelFontSize": 25,
            "labelColor": "#4b5060",
            "labelFlush": false,
            "grid": true,
            "gridColor": "#e2e4ea",
            "gridWidth": 2,
            "title": "Regime Signal: Panic as of 2026-06-24",
            "titleX": 0,
            "titleY": 202,
            "titleAlign": "left",
            "titleBaseline": "middle",
            "titleFontSize": 28,
            "titleFontWeight": "normal",
            "titleColor": "#6b7280"
          }
        },
        "x2": {"field": "end"},
        "color": {
          "field": "regime",
          "type": "nominal",
          "scale": {
            "domain": ["Panic", "Fear", "Neutral", "Greed", "Euphoria"],
            "range": ["#9e9fc5", "#b1b1d0", "#cfd2d6", "#ffc1b8", "#ffa5a3"]
          },
          "legend": {
            "title": null,
            "orient": "none",
            "legendX": 387,
            "legendY": 914,
            "direction": "horizontal",
            "symbolType": "square",
            "symbolSize": 784,
            "symbolOpacity": 1,
            "symbolStrokeWidth": 0,
            "labelFontSize": 28,
            "labelColor": "#2a2d37",
            "labelOffset": 21,
            "columnPadding": 20
          }
        }
      }
    },
    {
      "data": {"name": "price"},
      "mark": {"type": "line", "strokeWidth": 6, "color": "#272b3f"},
      "encoding": {
        "x": {"field": "date", "type": "temporal"},
        "y": {
          "field": "z",
          "type": "quantitative",
          "scale": {"domain": [-3.3, 3.3], "nice": false, "zero": false},
          "axis": {
            "title": "Price & Sentiment Momentum (Z-Score)",
            "values": [-3, -2, -1, 0, 1, 2, 3],
            "labelExpr": "toString(datum.value)",
            "domain": false,
            "ticks": false,
            "labelPadding": 20,
            "labelFontSize": 25,
            "labelColor": "#4b5060",
            "gridColor": "#e2e4ea",
            "gridWidth": 2,
            "titleFontSize": 30.5,
            "titleFontWeight": "bold",
            "titleColor": "#2a2d3a",
            "titleX": -104,
            "titleY": 406.5,
            "titleAngle": 270,
            "titleAlign": "center",
            "titleBaseline": "middle"
          }
        }
      }
    },
    {
      "data": {"name": "sent"},
      "mark": {
        "type": "line",
        "strokeWidth": 5,
        "color": {
          "gradient": "linear",
          "x1": 0, "y1": 1, "x2": 0, "y2": 0,
          "stops": [
            {"offset": 0, "color": "#3f8bff"},
            {"offset": 0.19, "color": "#6b7efb"},
            {"offset": 0.32, "color": "#8a6cf9"},
            {"offset": 0.45, "color": "#a259f5"},
            {"offset": 0.58, "color": "#b850e6"},
            {"offset": 0.71, "color": "#d247cb"},
            {"offset": 0.84, "color": "#e840b2"},
            {"offset": 1, "color": "#ff3a92"}
          ]
        }
      },
      "encoding": {
        "x": {"field": "date", "type": "temporal"},
        "y": {"field": "z", "type": "quantitative"}
      }
    }
  ]
}
